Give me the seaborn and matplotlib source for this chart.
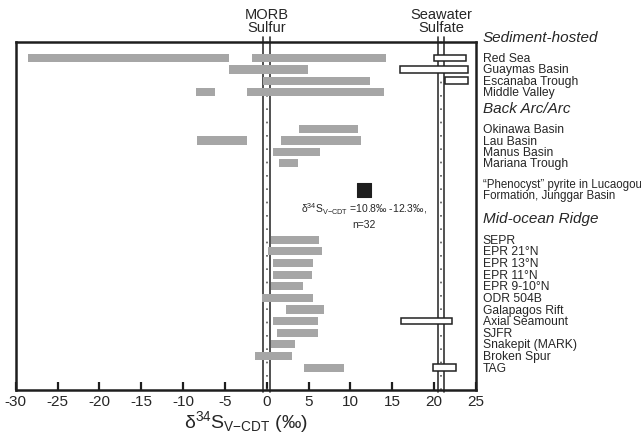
"""Sulfur isotope ranges of seafloor hydrothermal sulfides vs. Lucaogou pyrite"""

import matplotlib

matplotlib.use("Agg")
import matplotlib.pyplot as plt
import matplotlib.transforms as mtransforms
import numpy as np
import pandas as pd
import seaborn as sns

# --- data (δ34S ranges, ‰) ---
sediment_sites = ["Red Sea", "Guaymas Basin", "Escanaba Trough", "Middle Valley"]
sediment_ranges = [
    [(-28.5, -4.5), (-1.8, 14.2)],
    [(-4.5, 4.9)],
    [(-0.5, 12.3)],
    [(-8.4, -6.2), (-2.4, 14.0)],
]
sediment_sulfate = [(20.0, 23.8), (15.9, 24.0), (21.3, 24.0), None]

backarc_sites = ["Okinawa Basin", "Lau Basin", "Manus Basin", "Mariana Trough"]
backarc_ranges = [
    [(3.9, 10.9)],
    [(-8.3, -2.3), (1.7, 11.3)],
    [(0.8, 6.4)],
    [(1.5, 3.7)],
]

mor_sites = ["SEPR", "EPR 21°N", "EPR 13°N", "EPR 11°N", "EPR 9-10°N", "ODR 504B",
             "Galapagos Rift", "Axial Seamount", "SJFR", "Snakepit (MARK)",
             "Broken Spur", "TAG"]
mor_ranges = [
    [(0.5, 6.2)], [(0.15, 6.6)], [(0.75, 5.5)], [(0.75, 5.4)], [(0.5, 4.3)],
    [(-0.55, 5.5)], [(2.3, 6.8)], [(0.7, 6.1)], [(1.2, 6.1)], [(0.5, 3.4)],
    [(-1.35, 3.0)], [(4.4, 9.2)],
]
mor_sulfate = [None] * 7 + [(16.0, 22.1)] + [None] * 3 + [(19.9, 22.6)]

pyrite_mean = 11.6  # Lucaogou "phenocyst" pyrite, 10.8-12.3 ‰
morb_band = (-0.4, 0.4)
seawater_band = (20.5, 21.2)

xticks = np.arange(-30, 26, 5)

# --- layout (row units, Red Sea = 0) ---
sed_y = np.arange(4) * 1.0
arc_y = 6.3 + np.arange(4) * 1.0
pyrite_y = 11.65
mor_y = 16.1 + np.arange(12) * 1.03
headers = [("Sediment-hosted", -1.9), ("Back Arc/Arc", 4.45), ("Mid-ocean Ridge", 14.2)]

rows = []
for names, ranges, ys, boxes in [
    (sediment_sites, sediment_ranges, sed_y, sediment_sulfate),
    (backarc_sites, backarc_ranges, arc_y, [None] * 4),
    (mor_sites, mor_ranges, mor_y, mor_sulfate),
]:
    for name, rr, y, box in zip(names, ranges, ys, boxes):
        for lo, hi in rr:
            rows.append({"site": name, "y": y, "lo": lo, "hi": hi, "kind": "sulfide"})
        if box is not None:
            rows.append({"site": name, "y": y, "lo": box[0], "hi": box[1], "kind": "sulfate"})
df = pd.DataFrame(rows)

sns.set_theme(style="ticks")
plt.rcParams["font.family"] = ["Liberation Sans Narrow", "Liberation Sans", "DejaVu Sans"]
plt.rcParams["mathtext.default"] = "regular"

fig = plt.figure(figsize=(6.41, 4.35), dpi=100)
ax = fig.add_axes([0.0245, 0.101, 0.718, 0.8])

# reference bands (drawn a little above the frame top)
for lo, hi in [morb_band, seawater_band]:
    for xv in (lo, hi):
        ax.plot([xv, xv], [29.6, -1.9], color="#333333", lw=1.2, clip_on=False, zorder=1)
    ax.plot([(lo + hi) / 2] * 2, [29.4, -1.5], color="#555555", lw=1.2,
            linestyle=(0, (1, 7)), clip_on=False, zorder=1)

sulf = df[df.kind == "sulfide"]
ax.barh(sulf.y, sulf.hi - sulf.lo, left=sulf.lo, height=0.72, color="#a6a6a6",
        edgecolor="none", zorder=2)
sw = df[df.kind == "sulfate"]
ax.barh(sw.y, sw.hi - sw.lo, left=sw.lo, height=0.58, facecolor="white",
        edgecolor="#222222", linewidth=1.1, zorder=3)

sns.scatterplot(x=[pyrite_mean], y=[pyrite_y], marker="s", s=95, color="#1e1e1e",
                edgecolor="#1e1e1e", ax=ax, zorder=4, legend=False)
ax.text(pyrite_mean, pyrite_y + 0.95,
        "δ$^{34}$S$_{V{-}CDT}$ =10.8‰ -12.3‰,\nn=32",
        ha="center", va="top", fontsize=7.5, linespacing=1.35)

# labels right of the frame
trans = mtransforms.blended_transform_factory(ax.transAxes, ax.transData)
for name, y in zip(sediment_sites + backarc_sites + mor_sites,
                   list(sed_y) + list(arc_y) + list(mor_y)):
    ax.text(1.015, y, name, transform=trans, ha="left", va="center", fontsize=8.7)
for name, y in headers:
    ax.text(1.015, y, name, transform=trans, ha="left", va="center",
            fontsize=11, style="italic")
ax.text(1.015, pyrite_y, "\u201cPhenocyst\u201d pyrite in Lucaogou\nFormation, Junggar Basin",
        transform=trans, ha="left", va="center", fontsize=8.3, linespacing=0.95)

ax.text(np.mean(morb_band), -2.15, "MORB\nSulfur", ha="center", va="bottom",
        fontsize=10.5, linespacing=0.9)
ax.text(np.mean(seawater_band), -2.15, "Seawater\nSulfate", ha="center", va="bottom",
        fontsize=10.5, linespacing=0.9)

ax.set_xlim(-30, 25)
ax.set_ylim(29.42, -1.43)
ax.set_yticks([])
ax.set_xticks(xticks)
ax.set_xticklabels([str(t) for t in xticks], fontsize=11)
ax.tick_params(axis="x", direction="in", length=6, width=1.6, pad=3, color="#1e1e1e")
for sp in ax.spines.values():
    sp.set_linewidth(1.8)
    sp.set_color("#1e1e1e")
ax.set_xlabel("δ$^{34}$S$_{V{-}CDT}$ (‰)", fontsize=14, labelpad=0)

fig.savefig("out.png", dpi=100)
